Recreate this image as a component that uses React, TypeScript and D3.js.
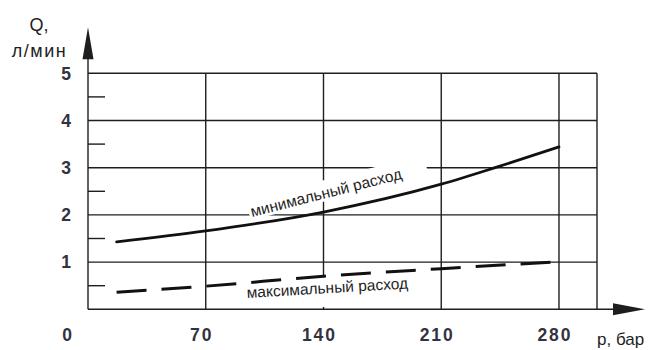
import React, { useEffect, useRef } from "react";
import * as d3 from "d3";

// ---- data ----
const xTicks = [0, 70, 140, 210, 280];
const yTicks = [0, 1, 2, 3, 4, 5];
const yMinorTicks = [0.5, 1.5, 2.5, 3.5, 4.5];
const xGridEnd = 302.6;
const minFlowP = [17, 70, 140, 210, 242, 280];
const minFlowQ = [1.43, 1.66, 2.06, 2.65, 3.0, 3.44];
const maxFlowP = [17, 70, 140, 210, 280];
const maxFlowQ = [0.36, 0.49, 0.7, 0.86, 1.01];
const yTitle = ["Q,", "л/мин"];
const xTitle = "p, бар";
const minLabel = "минимальный расход";
const maxLabel = "максимальный расход";

export default function App() {
  const ref = useRef<SVGSVGElement>(null);

  useEffect(() => {
    const svg = d3.select(ref.current as SVGSVGElement);
    svg.selectAll("*").remove();

    const x = d3.scaleLinear().domain([0, xGridEnd]).range([88, 597]);
    const y = d3.scaleLinear().domain([0, 5]).range([309.3, 73.3]);
    const ink = "#1e1e1e";
    const font = "'Liberation Sans', Arial, Helvetica, sans-serif";

    svg.append("rect").attr("width", 655).attr("height", 350).attr("fill", "#fff");

    const grid = svg.append("g").attr("stroke", ink).attr("stroke-width", 1.4);
    yTicks
      .filter((t) => t > 0)
      .forEach((t) =>
        grid
          .append("line")
          .attr("x1", x(0))
          .attr("x2", x(xGridEnd))
          .attr("y1", y(t))
          .attr("y2", y(t))
      );
    [...xTicks.filter((t) => t > 0), xGridEnd].forEach((t) =>
      grid
        .append("line")
        .attr("x1", x(t))
        .attr("x2", x(t))
        .attr("y1", y(0))
        .attr("y2", y(5))
    );
    yMinorTicks.forEach((t) =>
      grid
        .append("line")
        .attr("x1", x(0))
        .attr("x2", x(0) + 17)
        .attr("y1", y(t))
        .attr("y2", y(t))
    );
    grid
      .append("line")
      .attr("x1", x(0))
      .attr("x2", x(0))
      .attr("y1", y(0))
      .attr("y2", y(5) - 30);
    grid
      .append("line")
      .attr("x1", x(0))
      .attr("x2", x(xGridEnd) + 20)
      .attr("y1", y(0))
      .attr("y2", y(0));
    const ax = x(0);
    const ayTip = y(5) - 46;
    svg
      .append("path")
      .attr("d", `M${ax},${ayTip} L${ax + 5.5},${ayTip + 32} L${ax - 5.5},${ayTip + 32} Z`)
      .attr("fill", ink);
    const bxTip = 645;
    const by = y(0);
    svg
      .append("path")
      .attr("d", `M${bxTip},${by} L${bxTip - 32},${by - 6} L${bxTip - 32},${by + 6} Z`)
      .attr("fill", ink);

    // tick labels
    const tickColor = "#33333f";
    const ls = 2;
    const tickSize = 17.5;
    yTicks
      .filter((t) => t > 0)
      .forEach((t) =>
        svg
          .append("text")
          .attr("x", 66 + ls / 2)
          .attr("y", y(t) + 6.2)
          .attr("text-anchor", "middle")
          .attr("font-family", font)
          .attr("font-size", tickSize)
          .attr("font-weight", "bold")
          .attr("letter-spacing", ls)
          .attr("fill", tickColor)
          .text(String(t))
      );
    xTicks.forEach((t) =>
      svg
        .append("text")
        .attr("x", t === 0 ? 67 + ls / 2 : x(t) - 5 + ls / 2)
        .attr("y", 340.8)
        .attr("text-anchor", "middle")
        .attr("font-family", font)
        .attr("font-size", tickSize)
        .attr("font-weight", "bold")
        .attr("letter-spacing", ls)
        .attr("fill", tickColor)
        .text(String(t))
    );

    // axis titles
    svg
      .append("text")
      .attr("x", 39)
      .attr("y", 31)
      .attr("text-anchor", "middle")
      .attr("font-family", font)
      .attr("font-size", 18)
      .attr("fill", ink)
      .text(yTitle[0]);
    svg
      .append("text")
      .attr("x", 39.5)
      .attr("y", 57)
      .attr("text-anchor", "middle")
      .attr("font-family", font)
      .attr("font-size", 18)
      .attr("letter-spacing", 1.5)
      .attr("fill", ink)
      .text(yTitle[1]);
    svg
      .append("text")
      .attr("x", 597)
      .attr("y", 345)
      .attr("font-family", font)
      .attr("font-size", 17)
      .attr("fill", ink)
      .text(xTitle);

    const addLabel = (
      text: string,
      p: number,
      q: number,
      angle: number,
      box: { l: number; r: number; t: number; b: number },
      rotateBox: boolean
    ) => {
      const gx = x(p);
      const gy = y(q);
      const g = svg.append("g");
      const boxG = g.append("g");
      const tg = g
        .append("g")
        .attr("transform", `translate(${gx},${gy}) rotate(${angle})`);
      const t = tg
        .append("text")
        .attr("font-family", font)
        .attr("font-size", 15.5)
        .attr("fill", ink)
        .text(text);
      const len = (t.node() as SVGTextElement).getComputedTextLength();
      if (rotateBox) {
        boxG
          .attr("transform", `translate(${gx},${gy}) rotate(${angle})`)
          .append("rect")
          .attr("x", -box.l)
          .attr("y", -box.t)
          .attr("width", len + box.l + box.r)
          .attr("height", box.t + box.b)
          .attr("fill", "#fff");
      } else {
        boxG
          .append("rect")
          .attr("x", gx - box.l)
          .attr("y", gy - box.t)
          .attr("width", len + box.l + box.r)
          .attr("height", box.t + box.b)
          .attr("fill", "#fff");
      }
    };
    addLabel(minLabel, 97.5, 1.955, -14.3, { l: 2, r: 26, t: 18, b: 3 }, true);
    addLabel(maxLabel, 94.5, 0.24, -3.4, { l: 4, r: 4, t: 21, b: 9 }, false);

    const minLine = d3
      .line<number>()
      .x((_, i) => x(minFlowP[i]))
      .y((d) => y(d))
      .curve(d3.curveMonotoneX);
    svg
      .append("path")
      .attr("d", minLine(minFlowQ))
      .attr("fill", "none")
      .attr("stroke", "#111")
      .attr("stroke-width", 2.8)
      .attr("stroke-linecap", "round");
    const maxLine = d3
      .line<number>()
      .x((_, i) => x(maxFlowP[i]))
      .y((d) => y(d))
      .curve(d3.curveMonotoneX);
    svg
      .append("path")
      .attr("d", maxLine(maxFlowQ))
      .attr("fill", "none")
      .attr("stroke", "#111")
      .attr("stroke-width", 3)
      .attr("stroke-dasharray", "30,15");
  }, []);

  return (
    <svg
      ref={ref}
      width={655}
      height={350}
      style={{ position: "absolute", left: 0, top: 0, display: "block" }}
    />
  );
}
